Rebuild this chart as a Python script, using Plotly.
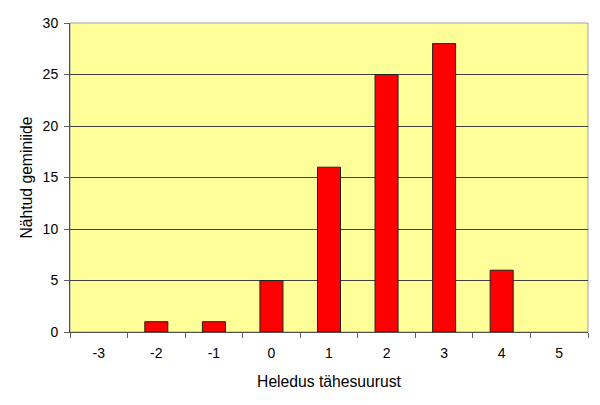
import plotly.graph_objects as go

categories = ["-3", "-2", "-1", "0", "1", "2", "3", "4", "5"]
counts = [0, 1, 1, 5, 16, 25, 28, 6, 0]
y_ticks = [0, 5, 10, 15, 20, 25, 30]

fig = go.Figure(go.Bar(
    x=categories, y=counts,
    marker=dict(color="#FF0000",
                line=dict(color="#202020", width=[0 if v == 0 else 1 for v in counts])),
    width=0.4,
))

font = "Liberation Sans, Arial, sans-serif"
fig.update_layout(
    width=592, height=397,
    margin=dict(l=62, r=12, t=15, b=73),
    paper_bgcolor="white",
    plot_bgcolor="#FFFF99",
    showlegend=False,
    font=dict(family=font, size=14, color="black"),
    xaxis=dict(
        type="category",
        automargin=False,
        tickson="boundaries",
        ticks="outside", ticklen=5, tickcolor="#606060",
        showline=True, linecolor="#505050", linewidth=1,
        showgrid=False,
        tickfont=dict(size=14),
        ticklabelstandoff=8,
        title=dict(text="Heledus tähesuurust", font=dict(size=15.7), standoff=16),
    ),
    yaxis=dict(
        range=[0, 30],
        automargin=False,
        tickvals=y_ticks,
        ticks="outside", ticklen=5, tickcolor="#606060",
        showline=True, linecolor="#505050", linewidth=1,
        showgrid=True, gridcolor="#404040", gridwidth=1,
        zeroline=False,
        tickfont=dict(size=14),
        ticklabelstandoff=3,
        title=dict(text="Nähtud geminiide", font=dict(size=15.7), standoff=6),
    ),
    shapes=[dict(type="rect", xref="paper", yref="paper", x0=0, x1=1, y0=0, y1=1,
                 line=dict(color="#A0A0A0", width=1), layer="below")],
)

fig.write_html("out.html")
